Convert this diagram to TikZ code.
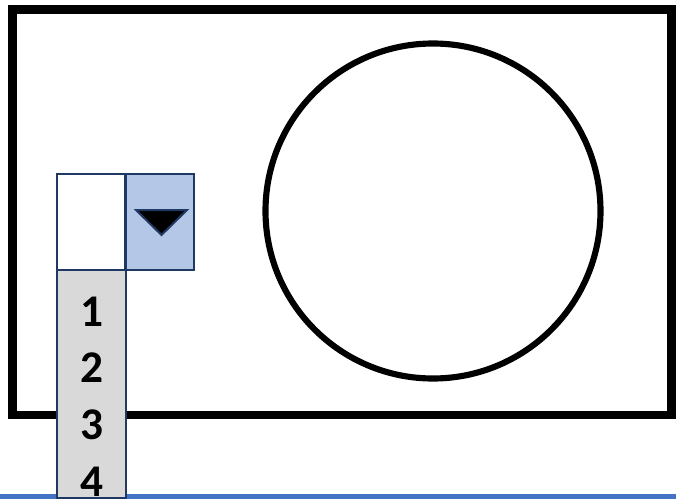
\documentclass[tikz,border=0pt]{standalone}
\usepackage{fontspec}
\setmainfont{Carlito}
\definecolor{navy}{HTML}{1F3864}
\definecolor{btnblue}{HTML}{B4C7E7}
\definecolor{listgray}{HTML}{D9D9D9}
\definecolor{lineblue}{HTML}{4472C4}
\begin{document}
\begin{tikzpicture}[x=0.75pt,y=-0.75pt,line join=miter,font=\fontsize{34}{40}\selectfont\bfseries,
	box/.style={draw=navy,line width=1.5pt,inner sep=0pt,outer sep=0pt}]
	\useasboundingbox (0,0) rectangle (676,500);
	\clip (0,0) rectangle (676,500);
	% Khung ngoai va hinh tron
	\draw[line width=6.5pt] (12.5,9.5) rectangle (671.5,415);
	\draw[line width=4.6pt] (433,211) circle (167.5);
	% Duong xanh phia duoi
	\draw[lineblue,line width=3.75pt] (0,496.5) -- (676,496.5);
	% O nhap, nut va danh sach
	\node[box,fill=white,minimum width=51pt,minimum height=71.5pt] (entry) at (91,222) {};
	\node[box,fill=btnblue,minimum width=51pt,minimum height=72pt] (button) at (160,222) {};
	\draw[fill=black,draw=navy,line width=1.5pt] (136,210) -- (187,210) -- (161.5,235) -- cycle;
	\node[box,fill=listgray,minimum width=51.75pt,minimum height=171pt] (list) at (91.5,384) {};
	\foreach \n/\y in {1/312,2/368,3/425,4/482}{
		\node (item\n) at (91.5,\y) {\n};
	}
\end{tikzpicture}
\end{document}
